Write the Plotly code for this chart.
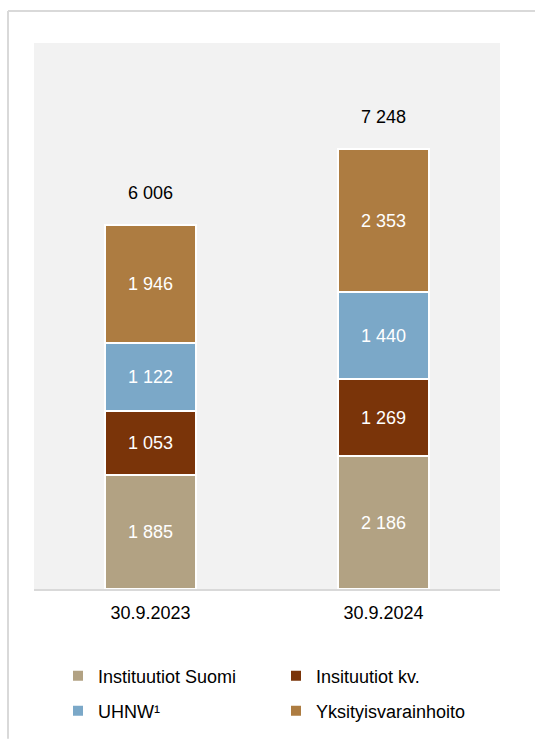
import plotly.graph_objects as go

categories = ["30.9.2023", "30.9.2024"]
series_names = ["Instituutiot Suomi", "Insituutiot kv.", "UHNW¹", "Yksityisvarainhoito"]
inst_suomi = [1885, 2186]
inst_kv = [1053, 1269]
uhnw = [1122, 1440]
yksityis = [1946, 2353]
totals = [6006, 7248]

colors = ["#B2A283", "#7A3409", "#7BA8C8", "#AD7C41"]
values = [inst_suomi, inst_kv, uhnw, yksityis]
legends = ["legend", "legend", "legend2", "legend2"]

def fmt(v):
    return f"{v:,}".replace(",", " ")

fig = go.Figure()
for name, vals, col, lg in zip(series_names, values, colors, legends):
    fig.add_trace(go.Bar(
        x=categories, y=vals, name=name,
        marker=dict(color=col, line=dict(color="white", width=2)),
        text=[fmt(v) for v in vals], textposition="inside",
        insidetextanchor="middle",
        textfont=dict(color="white", size=18, family="Liberation Sans, Arial"),
        width=0.39, legend=lg,
    ))

for c, t in zip(categories, totals):
    fig.add_annotation(x=c, y=t, text=fmt(t), showarrow=False,
                       yanchor="bottom", yshift=20,
                       font=dict(size=18, color="black", family="Liberation Sans, Arial"))

W, H = 535, 740
L, R, T, B = 34, 35, 43, 150
pw, ph = W - L - R, H - T - B
def px_x(x):
    return (x - L) / pw
def px_y(y):
    return (H - B - y) / ph

# frame lines
fig.add_shape(type="line", xref="paper", yref="paper",
              x0=px_x(8), x1=px_x(535), y0=px_y(11), y1=px_y(11),
              line=dict(color="#D9D9D9", width=2))
fig.add_shape(type="line", xref="paper", yref="paper",
              x0=px_x(8), x1=px_x(8), y0=px_y(11), y1=px_y(740),
              line=dict(color="#D9D9D9", width=2))

legend_common = dict(orientation="h", xanchor="left", yanchor="middle",
                     entrywidth=173, entrywidthmode="pixels",
                     font=dict(size=18, color="black", family="Liberation Sans, Arial"),
                     bgcolor="rgba(0,0,0,0)", traceorder="normal")

fig.update_layout(
    width=W, height=H,
    margin=dict(l=L, r=R, t=T, b=B),
    barmode="stack",
    paper_bgcolor="white",
    plot_bgcolor="#F2F2F2",
    font=dict(family="Liberation Sans, Arial", size=18, color="black"),
    xaxis=dict(showgrid=False, showline=True, linecolor="#D9D9D9", linewidth=2,
               tickfont=dict(size=18), ticks="", ticklabelstandoff=6),
    yaxis=dict(range=[0, 9000], visible=False, showgrid=False),
    legend=dict(x=px_x(58), y=px_y(676), **legend_common),
    legend2=dict(x=px_x(58), y=px_y(711), **legend_common),
    bargap=0.61,
)

fig.write_html("out.html", config={"displayModeBar": False},
               post_script="document.body.style.margin='0';document.body.style.overflow='hidden';")
